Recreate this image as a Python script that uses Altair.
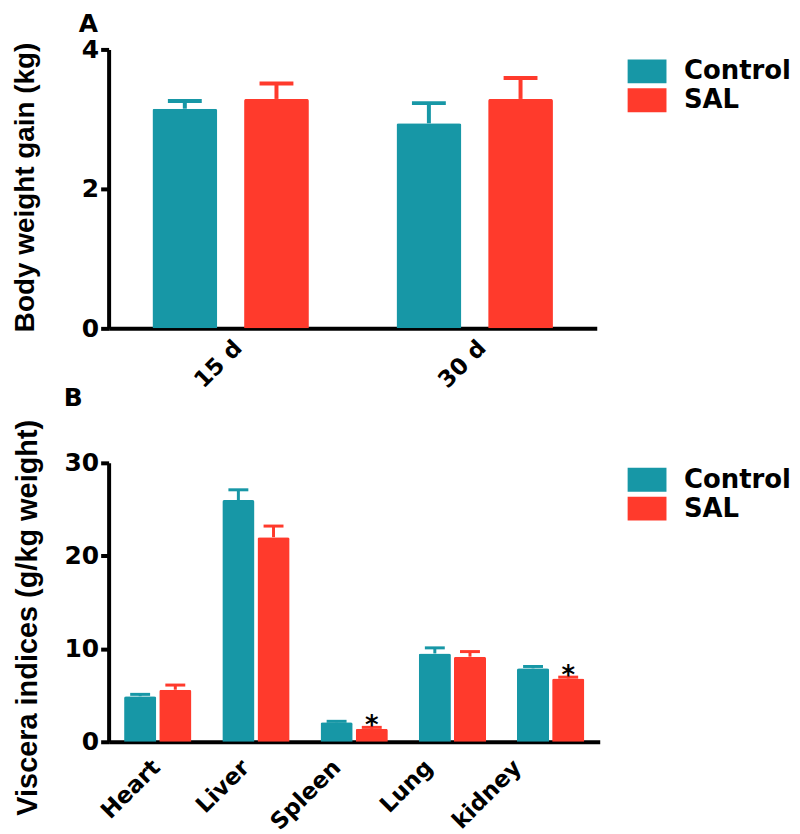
import altair as alt
import pandas as pd

# ---- data ----
groups = ["Control", "SAL"]
colors = ["#1797A6", "#FF3A2C"]

periods = ["15 d", "30 d"]
gain_control = [3.15, 2.94]
gain_control_up = [3.26, 3.23]
gain_sal = [3.29, 3.29]
gain_sal_up = [3.51, 3.59]

organs = ["Heart", "Liver", "Spleen", "Lung", "kidney"]
visc_control = [4.9, 26.0, 2.1, 9.5, 7.9]
visc_control_up = [5.1, 27.1, 2.2, 10.1, 8.1]
visc_sal = [5.6, 22.0, 1.4, 9.15, 6.8]
visc_sal_up = [6.1, 23.2, 1.55, 9.7, 6.95]
visc_sal_mark = ["", "", "*", "", "*"]

dfA = pd.DataFrame(
    [{"cat": p, "group": "Control", "value": v, "upper": u, "mark": ""} for p, v, u in zip(periods, gain_control, gain_control_up)]
    + [{"cat": p, "group": "SAL", "value": v, "upper": u, "mark": ""} for p, v, u in zip(periods, gain_sal, gain_sal_up)]
)
dfB = pd.DataFrame(
    [{"cat": o, "group": "Control", "value": v, "upper": u, "mark": ""} for o, v, u in zip(organs, visc_control, visc_control_up)]
    + [{"cat": o, "group": "SAL", "value": v, "upper": u, "mark": m} for o, v, u, m in zip(organs, visc_sal, visc_sal_up, visc_sal_mark)]
)

LABEL_FONT = "DejaVu Sans"
TITLE_FONT = "Liberation Sans"


def legend(ly):
    return alt.Legend(
        title=None, orient="none", legendX=527.5, legendY=ly,
        symbolType="M-1.625,-1L1.625,-1L1.625,1L-1.625,1Z", symbolSize=576,
        symbolStrokeWidth=0, symbolOpacity=1,
        labelFont=LABEL_FONT, labelFontWeight="bold", labelFontSize=26, labelColor="black",
        labelOffset=24, rowPadding=3, padding=0,
    )


color_scale = alt.Scale(domain=groups, range=colors)

# label shifts for the organ axis, as laid out in the original figure
organ_label_shift = {"Heart": -9, "Liver": -18, "Spleen": -25, "Lung": -31, "kidney": -41}


def panel(df, xsort, ydomain, yticks, ytitle, ytitle_size, title_x, width, bar_pad, cap, cap_th,
          title, title_dx, title_offset, ly, title_y, with_stars, label_pad, label_offset):
    band = width / len(xsort)
    base = alt.Chart(df).encode(
        x=alt.X("cat:N", sort=xsort, title=None,
                scale=alt.Scale(type="band", paddingInner=0, paddingOuter=0),
                axis=alt.Axis(labelAngle=-45, ticks=False, labelPadding=label_pad,
                              labelOffset=label_offset,
                              labelFont=LABEL_FONT, labelFontWeight="bold", labelFontSize=23,
                              labelColor="black", domainColor="black", domainWidth=4)),
        xOffset=alt.XOffset("group:N", sort=groups,
                            scale=alt.Scale(type="band", range=[0, band],
                                            paddingInner=bar_pad[0], paddingOuter=bar_pad[1])),
        color=alt.Color("group:N", scale=color_scale, legend=legend(ly)),
    )
    yax = alt.Axis(values=yticks, format="d", title=ytitle, titleFont=TITLE_FONT, titleFontWeight="bold",
                   titleFontSize=ytitle_size, titleColor="black", titleX=title_x, titleY=title_y,
                   labelFont=LABEL_FONT, labelFontWeight="bold", labelFontSize=25, labelColor="black",
                   labelPadding=2, tickSize=8, tickWidth=4, tickColor="black",
                   domainColor="black", domainWidth=4, grid=False)
    yscale = alt.Scale(domain=ydomain, nice=False, zero=True)
    bars = base.mark_bar(cornerRadiusTopLeft=2, cornerRadiusTopRight=2).encode(
        y=alt.Y("value:Q", scale=yscale, axis=yax))
    rule = base.mark_rule(strokeWidth=cap_th).encode(y="value:Q", y2="upper:Q")
    tick = base.mark_tick(orient="horizontal", size=cap, thickness=cap_th, opacity=1).encode(y="upper:Q")
    layers = [rule, tick, bars]
    if with_stars:
        stars = base.mark_text(font=LABEL_FONT, fontWeight="bold", fontSize=26, baseline="alphabetic",
                               dy=7, color="black").encode(y="upper:Q", text="mark:N",
                                                           color=alt.value("black"))
        layers.append(stars)
    return alt.layer(*layers).properties(
        width=width, height=280,
        title=alt.TitleParams(title, anchor="start", frame="group", dx=title_dx, fontSize=25,
                              font=LABEL_FONT, fontWeight="bold", color="black", offset=title_offset),
    )


organ_offset = {
    "condition": [{"test": f"datum.value === '{k}'", "value": v} for k, v in organ_label_shift.items()],
    "value": 0,
}

chartA = panel(dfA, periods, [0, 4], [0, 2, 4], "Body weight gain (kg)", 28, -69, 490,
               (0.293, 0.478), 34, 4, "A", -30, 0, 9, 138, False, 8, 0)
chartB = panel(dfB, organs, [0, 30], [0, 10, 20, 30], "Viscera indices (g/kg weight)", 29, -66, 493,
               (0.086, 0.44), 20, 3, "B", -45, 8, 4, 155, True, 14, organ_offset)

chart = (
    alt.vconcat(chartA, chartB, spacing=135, bounds="flush")
    .resolve_scale(x="independent", xOffset="independent", y="independent")
    .resolve_legend(color="independent")
    .configure(padding={"left": 3, "top": 3, "right": 0, "bottom": 0}, background="white")
    .configure_view(stroke=None)
)

chart.save("out.html", embed_options={"renderer": "svg", "actions": False})
